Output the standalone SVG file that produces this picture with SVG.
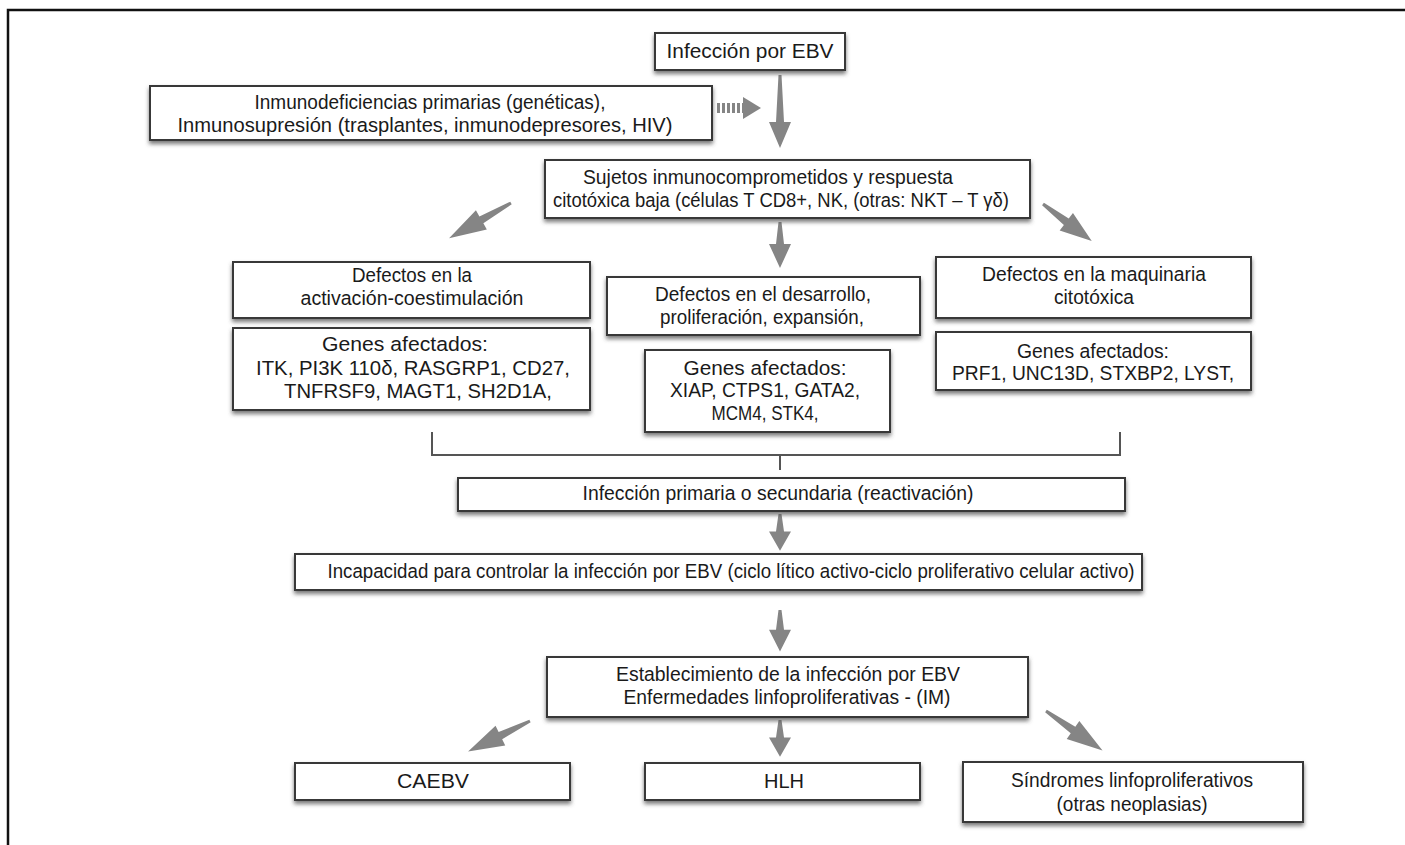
<svg xmlns="http://www.w3.org/2000/svg" width="1405" height="845" viewBox="0 0 1405 845">
<defs>
<filter id="sh" x="-5%" y="-20%" width="110%" height="150%">
<feDropShadow dx="0" dy="3" stdDeviation="2" flood-color="#4a4a4a" flood-opacity="0.75"/>
</filter>
<style>
.box{fill:#fff;stroke:#383838;stroke-width:2;filter:url(#sh)}
.t{font-family:"Liberation Sans",Arial,sans-serif;font-size:19.3px;fill:#1a1a1a;text-anchor:middle}
.arr{fill:#858585}
.br{fill:none;stroke:#555;stroke-width:2}
</style>
<path id="a46" d="M-1.5 0 L1.5 0 L4 22 L11 22 L0 46 L-11 22 L-4 22 Z"/>
</defs>
<rect x="0" y="0" width="1405" height="845" fill="#fff"/>
<path d="M1405 10 H8 V845" fill="none" stroke="#111" stroke-width="2.5"/>

<g id="connectors">
<path class="arr" d="M778.5 75 L781.5 75 L784 122 L791 122 L780 148 L769 122 L776 122 Z"/>
<g class="arr">
<path d="M717 108 H744" stroke="#858585" stroke-width="10" stroke-dasharray="3 2" fill="none"/>
<polygon points="743,97 761,108 743,119"/>
</g>
<use href="#a46" class="arr" transform="translate(780 222)"/>
<use href="#a46" class="arr" transform="translate(511 203) rotate(60.3) scale(1 1.55)"/>
<use href="#a46" class="arr" transform="translate(1043 204) rotate(-52.8) scale(1 1.33)"/>
<path class="br" d="M432 432 V455 H1120 V432 M780 455 V470"/>
<use href="#a46" class="arr" transform="translate(780 514) scale(1 0.8)"/>
<use href="#a46" class="arr" transform="translate(780 610) scale(1 0.9)"/>
<use href="#a46" class="arr" transform="translate(780 720) scale(1 0.8)"/>
<use href="#a46" class="arr" transform="translate(530 721) rotate(63.8) scale(1 1.5)"/>
<use href="#a46" class="arr" transform="translate(1046 711) rotate(-55) scale(1 1.5)"/>
</g>

<g id="n-ebv">
<rect class="box" x="655" y="33" width="190" height="37"/>
<text class="t" x="750" y="58" textLength="167" lengthAdjust="spacingAndGlyphs">Infección por EBV</text>
</g>
<g id="n-inmuno">
<rect class="box" x="150" y="86" width="562" height="54"/>
<text class="t" x="430" y="109" textLength="351" lengthAdjust="spacingAndGlyphs">Inmunodeficiencias primarias (genéticas),</text>
<text class="t" x="425" y="132" textLength="495" lengthAdjust="spacingAndGlyphs">Inmunosupresión (trasplantes, inmunodepresores, HIV)</text>
</g>
<g id="n-sujetos">
<rect class="box" x="545" y="160" width="485" height="58"/>
<text class="t" x="768" y="184" textLength="370" lengthAdjust="spacingAndGlyphs">Sujetos inmunocomprometidos y respuesta</text>
<text class="t" x="781" y="207" textLength="456" lengthAdjust="spacingAndGlyphs">citotóxica baja (células T CD8+, NK, (otras: NKT – T γδ)</text>
</g>
<g id="n-def-act">
<rect class="box" x="233" y="262" width="357" height="56"/>
<text class="t" x="412" y="282" textLength="120" lengthAdjust="spacingAndGlyphs">Defectos en la</text>
<text class="t" x="412" y="305" textLength="223" lengthAdjust="spacingAndGlyphs">activación-coestimulación</text>
</g>
<g id="n-genes-act">
<rect class="box" x="233" y="328" width="357" height="82"/>
<text class="t" x="405" y="351" textLength="166" lengthAdjust="spacingAndGlyphs">Genes afectados:</text>
<text class="t" x="413" y="375" textLength="314" lengthAdjust="spacingAndGlyphs">ITK, PI3K 110δ, RASGRP1, CD27,</text>
<text class="t" x="418" y="398" textLength="268" lengthAdjust="spacingAndGlyphs">TNFRSF9, MAGT1, SH2D1A,</text>
</g>
<g id="n-def-des">
<rect class="box" x="607" y="277" width="313" height="58"/>
<text class="t" x="763" y="301" textLength="216" lengthAdjust="spacingAndGlyphs">Defectos en el desarrollo,</text>
<text class="t" x="762" y="324" textLength="204" lengthAdjust="spacingAndGlyphs">proliferación, expansión,</text>
</g>
<g id="n-genes-des">
<rect class="box" x="645" y="350" width="245" height="82"/>
<text class="t" x="765" y="375" textLength="163" lengthAdjust="spacingAndGlyphs">Genes afectados:</text>
<text class="t" x="765" y="397" textLength="190" lengthAdjust="spacingAndGlyphs">XIAP, CTPS1, GATA2,</text>
<text class="t" x="765" y="420" textLength="107" lengthAdjust="spacingAndGlyphs">MCM4, STK4,</text>
</g>
<g id="n-def-maq">
<rect class="box" x="936" y="257" width="315" height="61"/>
<text class="t" x="1094" y="281" textLength="224" lengthAdjust="spacingAndGlyphs">Defectos en la maquinaria</text>
<text class="t" x="1094" y="304" textLength="80" lengthAdjust="spacingAndGlyphs">citotóxica</text>
</g>
<g id="n-genes-maq">
<rect class="box" x="936" y="332" width="315" height="58"/>
<text class="t" x="1093" y="358" textLength="152" lengthAdjust="spacingAndGlyphs">Genes afectados:</text>
<text class="t" x="1093" y="380" textLength="282" lengthAdjust="spacingAndGlyphs">PRF1, UNC13D, STXBP2, LYST,</text>
</g>
<g id="n-primaria">
<rect class="box" x="458" y="478" width="667" height="33"/>
<text class="t" x="778" y="500" textLength="391" lengthAdjust="spacingAndGlyphs">Infección primaria o secundaria (reactivación)</text>
</g>
<g id="n-incapacidad">
<rect class="box" x="295" y="554" width="847" height="36"/>
<text class="t" x="731" y="578" textLength="807" lengthAdjust="spacingAndGlyphs">Incapacidad para controlar la infección por EBV (ciclo lítico activo-ciclo proliferativo celular activo)</text>
</g>
<g id="n-establecimiento">
<rect class="box" x="547" y="657" width="481" height="60"/>
<text class="t" x="788" y="681" textLength="344" lengthAdjust="spacingAndGlyphs">Establecimiento de la infección por EBV</text>
<text class="t" x="787" y="704" textLength="327" lengthAdjust="spacingAndGlyphs">Enfermedades linfoproliferativas - (IM)</text>
</g>
<g id="n-caebv">
<rect class="box" x="295" y="763" width="275" height="37"/>
<text class="t" x="433" y="788" textLength="72" lengthAdjust="spacingAndGlyphs">CAEBV</text>
</g>
<g id="n-hlh">
<rect class="box" x="645" y="763" width="275" height="37"/>
<text class="t" x="784" y="788" textLength="40" lengthAdjust="spacingAndGlyphs">HLH</text>
</g>
<g id="n-sindromes">
<rect class="box" x="963" y="762" width="340" height="60"/>
<text class="t" x="1132" y="787" textLength="242" lengthAdjust="spacingAndGlyphs">Síndromes linfoproliferativos</text>
<text class="t" x="1132" y="811" textLength="151" lengthAdjust="spacingAndGlyphs">(otras neoplasias)</text>
</g>
</svg>
